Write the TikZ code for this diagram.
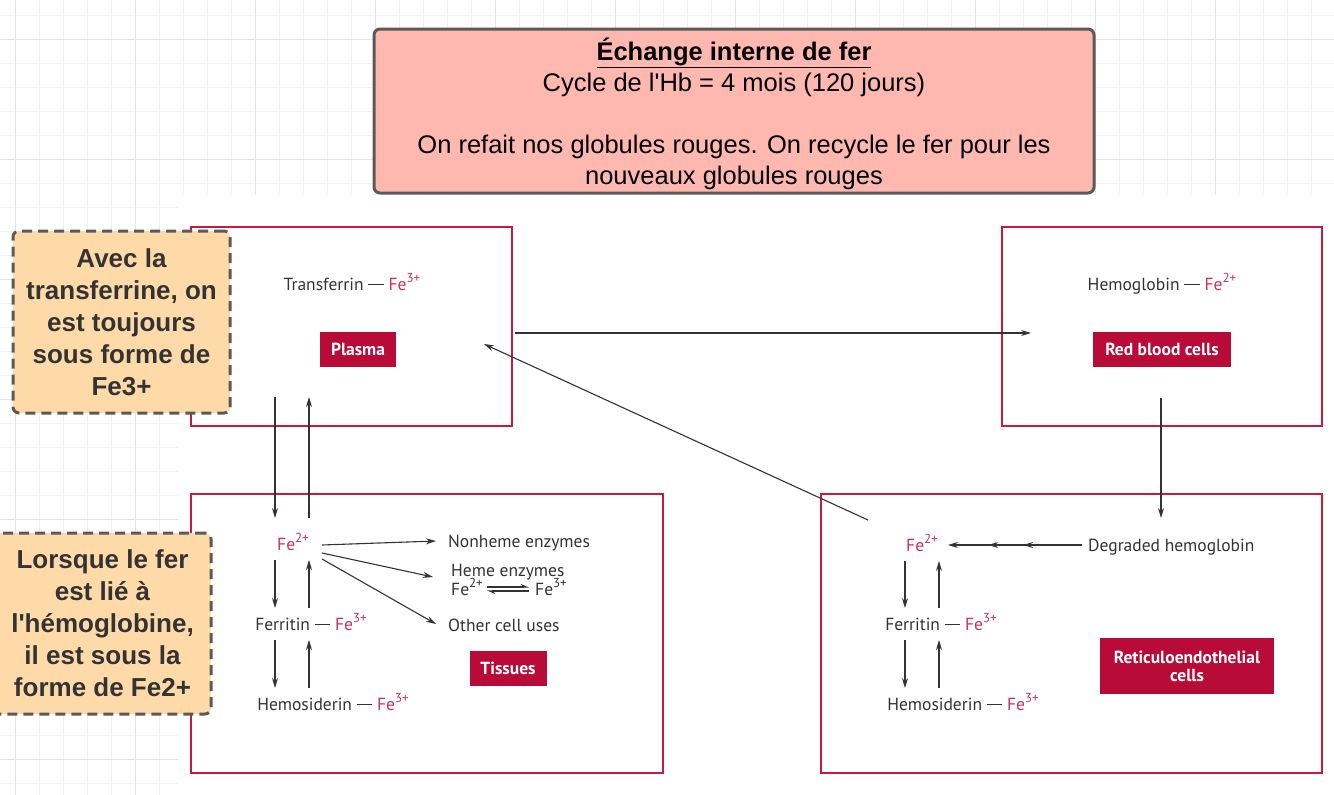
\documentclass[tikz,border=0pt]{standalone}
\usepackage{fontspec}
\setmainfont{Liberation Sans}
\newfontfamily\figfont{PT Sans}
\usepackage{xcolor}
\usetikzlibrary{arrows.meta,positioning,decorations.markings}
\definecolor{ink}{HTML}{333333}
\definecolor{frame}{HTML}{C8193F}
\definecolor{tag}{HTML}{B80B38}
\definecolor{iron}{HTML}{CC2F5A}
\definecolor{peach}{HTML}{FFDAA9}
\definecolor{salmon}{HTML}{FFB8AF}
\definecolor{edge}{HTML}{5A5A5A}
\definecolor{minorgrid}{HTML}{F1F1F1}
\definecolor{majorgrid}{HTML}{E3E3E3}
\newcommand{\charge}[1]{\raisebox{0.42em}{\fontsize{13}{13}\selectfont#1}}
\newcommand{\fe}[1]{\textcolor{iron}{Fe\charge{#1}}}
\newcommand{\bond}{\rule[0.3em]{0.9em}{0.06em}}
\newcommand{\figsize}{\figfont\fontsize{17.5}{21}\selectfont}

\begin{document}
\begin{tikzpicture}[x=1pt,y=-1pt,>={Stealth[length=10pt,width=6pt]},
  txt/.style={font=\figsize,text=ink,inner sep=0pt},
  compart/.style={draw=frame,line width=2pt,outer sep=0pt,anchor=north west},
  tagbox/.style={fill=tag,text=white,font=\figfont\bfseries\fontsize{17.5}{21}\selectfont,align=center,inner sep=0pt},
  flow/.style={->,draw=ink,line width=1.1pt},
  remark/.style={draw=edge,line width=3pt,dash pattern=on 10pt off 6pt,rounded corners=6pt,fill=peach,text=ink,
    minimum width=217pt,minimum height=182pt,align=center,font=\bfseries\fontsize{26}{32}\selectfont}]
\useasboundingbox (0,0) rectangle (1334,795);
\foreach \x in {15,39,...,1334} \draw[minorgrid,line width=1pt] (\x,0)--(\x,795);
\foreach \y in {15,39,...,795} \draw[minorgrid,line width=1pt] (0,\y)--(1334,\y);
\foreach \x in {15,135,...,1334} \draw[majorgrid,line width=1pt] (\x,0)--(\x,795);
\foreach \y in {39,159,...,795} \draw[majorgrid,line width=1pt] (0,\y)--(1334,\y);
\fill[white] (178,195) rectangle (1334,795);

\node[draw=edge,line width=3pt,rounded corners=6pt,fill=salmon,minimum width=720pt,minimum height=164pt,align=center,
  font=\fontsize{25.5}{31}\selectfont] (title) at (734,111) {};
\node[align=center,font=\fontsize{25.5}{31}\selectfont] (titletext) at (734,114)
  {\underline{\textbf{Échange interne de fer}}\\Cycle de l\textquotesingle Hb = 4 mois (120 jours)\\[31pt]On refait nos globules rouges. On recycle le fer pour les\\nouveaux globules rouges};

\node[compart,minimum width=321pt,minimum height=199pt] (plasmabox) at (191,227) {};
\node[compart,minimum width=320pt,minimum height=199pt] (rbcbox) at (1002,227) {};
\node[compart,minimum width=472pt,minimum height=279pt] (tissuebox) at (191,494) {};
\node[compart,minimum width=501pt,minimum height=279pt] (rebox) at (821,494) {};

\node[tagbox,minimum width=76pt,minimum height=35pt] (plasma) at (358,349) {Plasma};
\node[tagbox,minimum width=138pt,minimum height=35pt] (rbc) at (1162,349) {Red blood cells};
\node[tagbox,minimum width=77pt,minimum height=35pt] (tissues) at (508,668) {Tissues};
\node[tagbox,minimum width=174pt,minimum height=56pt] (recells) at (1187,666) {Reticuloendothelial\\[-3pt]cells};

\node[txt,anchor=base] (transf) at (352,290) {Transferrin \bond{} \fe{3+}};
\node[txt,anchor=base] (hemo) at (1162,290) {Hemoglobin \bond{} \fe{2+}};

\node[txt,anchor=base] (fe2t) at (293,550) {\fe{2+}};
\node[txt,anchor=base] (fert) at (311,630) {Ferritin \bond{} \fe{3+}};
\node[txt,anchor=base] (hems) at (333,710) {Hemosiderin \bond{} \fe{3+}};
\node[txt,anchor=base west] (nonheme) at (448,547) {Nonheme enzymes};
\node[txt,anchor=base west] (heme) at (451,576) {Heme enzymes};
\node[txt,anchor=base west] (hfe2) at (451,595) {Fe\charge{2+}};
\node[txt,anchor=base west] (hfe3) at (535,595) {Fe\charge{3+}};
\node[txt,anchor=base west] (other) at (448,631) {Other cell uses};

\node[txt,anchor=base] (fe2r) at (922,551) {\fe{2+}};
\node[txt,anchor=base west] (dgh) at (1088,551) {Degraded hemoglobin};
\node[txt,anchor=base] (fer2) at (941,630) {Ferritin \bond{} \fe{3+}};
\node[txt,anchor=base] (hem2) at (963,710) {Hemosiderin \bond{} \fe{3+}};

\draw[flow] ([shift={(3,6.5)}]plasmabox.east) -- ([shift={(29,6.5)}]rbcbox.west);
\draw[flow] ([shift={(47,26)}]rebox.north west) -- ([shift={(-28,117)}]plasmabox.north east);
\draw[flow] ([shift={(84,-29)}]plasmabox.south west) -- ([shift={(-18,-32)}]fe2t.base);
\draw[flow] ([shift={(16,-32)}]fe2t.base) -- ([shift={(118,-29)}]plasmabox.south west);
\draw[flow] ([shift={(-1,-28)}]rbcbox.south) -- ([shift={(73,-33)}]dgh.base west);

\draw[flow] ([shift={(-18,10)}]fe2t.base) -- ([shift={(-36,-22)}]fert.base);
\draw[flow] ([shift={(-2,-22)}]fert.base) -- ([shift={(16,10)}]fe2t.base);
\draw[flow] ([shift={(-36,10)}]fert.base) -- ([shift={(-58,-22)}]hems.base);
\draw[flow] ([shift={(-24,-22)}]hems.base) -- ([shift={(-2,10)}]fert.base);
\draw[flow] ([shift={(29,-5)}]fe2t.base) -- ([shift={(-12,-6)}]nonheme.base west);
\draw[flow] ([shift={(29,3)}]fe2t.base) -- ([shift={(-18,1)}]heme.base west);
\draw[flow] ([shift={(29,9)}]fe2t.base) -- ([shift={(-12,-7)}]other.base west);
\draw[ink,line width=1.1pt,-{Stealth[harpoon,length=7pt,width=6pt]}] ([shift={(4,-8)}]hfe2.base east) -- ([shift={(-6,-8)}]hfe3.base west);
\draw[ink,line width=1.1pt,-{Stealth[harpoon,length=7pt,width=6pt]}] ([shift={(-6,-4)}]hfe3.base west) -- ([shift={(4,-4)}]hfe2.base east);

\draw[flow,postaction={decorate,decoration={markings,mark=at position 0.44 with {\arrow{>}},mark=at position 0.7 with {\arrow{>}}}}]
  ([shift={(-6,-6)}]dgh.base west) -- ([shift={(26,-6)}]fe2r.base);
\draw[flow] ([shift={(-17,10)}]fe2r.base) -- ([shift={(-36,-22)}]fer2.base);
\draw[flow] ([shift={(-2,-22)}]fer2.base) -- ([shift={(17,10)}]fe2r.base);
\draw[flow] ([shift={(-36,10)}]fer2.base) -- ([shift={(-58,-22)}]hem2.base);
\draw[flow] ([shift={(-24,-22)}]hem2.base) -- ([shift={(-2,10)}]fer2.base);

\node[remark] (note1) at (121.5,322) {Avec la\\transferrine, on\\est toujours\\sous forme de\\Fe3+};
\node[remark,minimum height=181pt] (note2) at (102.5,623.5) {Lorsque le fer\\est lié à\\l\textquotesingle hémoglobine,\\il est sous la\\forme de Fe2+};
\end{tikzpicture}
\end{document}
